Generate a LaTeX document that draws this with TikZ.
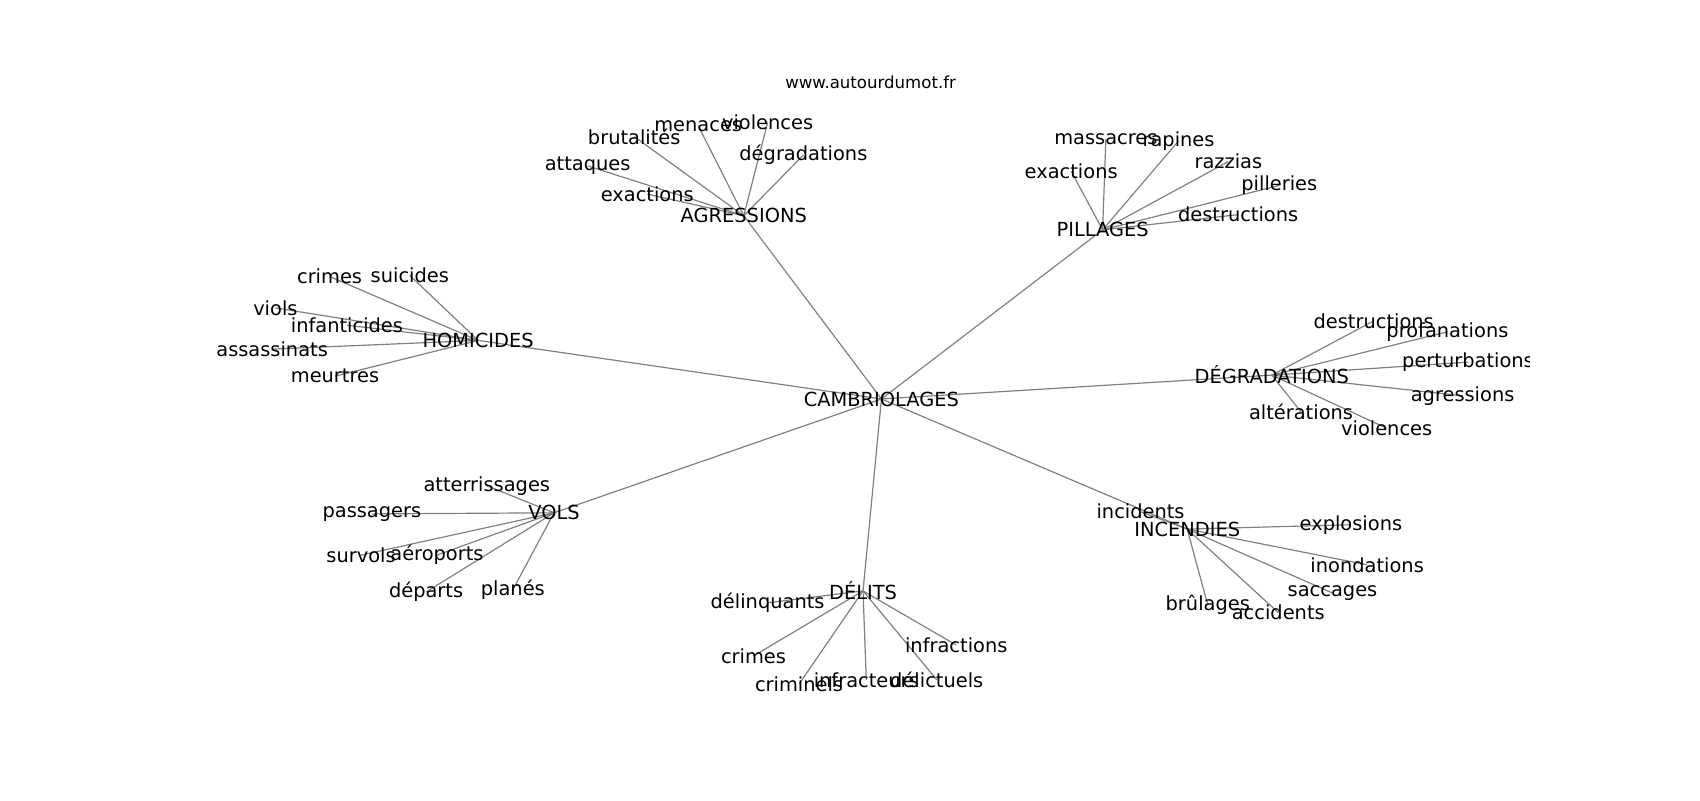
\documentclass[tikz,border=0pt]{standalone}
\usepackage{fontspec}
\setmainfont{DejaVu Sans}
\usetikzlibrary{backgrounds}

\tikzset{
  mot/.style={inner sep=0pt, font=\fontsize{17.9}{21}\selectfont},
  lien/.style={draw=gray, line width=1.1pt}
}

\begin{document}
\begin{tikzpicture}[x=1pt,y=-1pt]
\useasboundingbox (0,0) rectangle (1568,738);

\node[inner sep=0pt, font=\fontsize{15.3}{18}\selectfont] (site) at (803,76) {www.autourdumot.fr};

\begin{scope}
\clip (196,88) rectangle (1411,657);

% centre
\node[mot] (cambr) at (813,368) {CAMBRIOLAGES};

% agressions
\node[mot] (agr) at (686,199) {AGRESSIONS};
\node[mot] (agrViol) at (708,113) {violences};
\node[mot] (agrMen) at (644,116) {menaces};
\node[mot] (agrBrut) at (585,126) {brutalités};
\node[mot] (agrDeg) at (741,143) {dégradations};
\node[mot] (agrAtt) at (542,153) {attaques};
\node[mot] (agrExa) at (597,179) {exactions};

% pillages
\node[mot] (pil) at (1017,212) {PILLAGES};
\node[mot] (pilMas) at (1020,128) {massacres};
\node[mot] (pilRap) at (1087,130) {rapines};
\node[mot] (pilExa) at (988,158) {exactions};
\node[mot] (pilRaz) at (1133,149) {razzias};
\node[mot] (pilPil) at (1180,171) {pilleries};
\node[mot] (pilDes) at (1142,198) {destructions};

% homicides
\node[mot] (hom) at (441,314) {HOMICIDES};
\node[mot] (homCri) at (304,255) {crimes};
\node[mot] (homSui) at (378,254) {suicides};
\node[mot] (homVio) at (254,284) {viols};
\node[mot] (homInf) at (320,300) {infanticides};
\node[mot] (homAss) at (251,322) {assassinats};
\node[mot] (homMeu) at (309,347) {meurtres};

% degradations
\node[mot] (deg) at (1173,346) {DÉGRADATIONS};
\node[mot] (degDes) at (1267,296) {destructions};
\node[mot] (degPro) at (1335,306) {profanations};
\node[mot] (degPer) at (1354,334) {perturbations};
\node[mot] (degAgr) at (1349,365) {agressions};
\node[mot] (degAlt) at (1200,380) {altérations};
\node[mot] (degVio) at (1279,395) {violences};

% vols
\node[mot] (vol) at (511,473) {VOLS};
\node[mot] (volAtt) at (449,448) {atterrissages};
\node[mot] (volPas) at (343,474) {passagers};
\node[mot] (volSur) at (333,512) {survols};
\node[mot] (volAer) at (403,512) {aéroports};
\node[mot] (volDep) at (393,546) {départs};
\node[mot] (volPla) at (473,544) {planés};

% delits
\node[mot] (del) at (796,545) {DÉLITS};
\node[mot] (delDel) at (708,556) {délinquants};
\node[mot] (delCri) at (695,605) {crimes};
\node[mot] (delCrim) at (737,631) {criminels};
\node[mot] (delInf) at (799,627) {infracteurs};
\node[mot] (delDelic) at (864,627) {délictuels};
\node[mot] (delInfr) at (882,595) {infractions};

% incendies
\node[mot] (inc) at (1095,488) {INCENDIES};
\node[mot] (incInc) at (1052,472) {incidents};
\node[mot] (incExp) at (1246,484) {explosions};
\node[mot] (incIno) at (1261,521) {inondations};
\node[mot] (incSac) at (1229,547) {saccages};
\node[mot] (incBru) at (1114,558) {brûlages};
\node[mot] (incAcc) at (1179,565) {accidents};

\begin{scope}[on background layer]
\draw[lien] (cambr.center) -- (agr.center);
\draw[lien] (cambr.center) -- (pil.center);
\draw[lien] (cambr.center) -- (hom.center);
\draw[lien] (cambr.center) -- (deg.center);
\draw[lien] (cambr.center) -- (vol.center);
\draw[lien] (cambr.center) -- (del.center);
\draw[lien] (cambr.center) -- (inc.center);

\draw[lien] (agr.center) -- (agrViol.center);
\draw[lien] (agr.center) -- (agrMen.center);
\draw[lien] (agr.center) -- (agrBrut.center);
\draw[lien] (agr.center) -- (agrDeg.center);
\draw[lien] (agr.center) -- (agrAtt.center);
\draw[lien] (agr.center) -- (agrExa.center);

\draw[lien] (pil.center) -- (pilMas.center);
\draw[lien] (pil.center) -- (pilRap.center);
\draw[lien] (pil.center) -- (pilExa.center);
\draw[lien] (pil.center) -- (pilRaz.center);
\draw[lien] (pil.center) -- (pilPil.center);
\draw[lien] (pil.center) -- (pilDes.center);

\draw[lien] (hom.center) -- (homCri.center);
\draw[lien] (hom.center) -- (homSui.center);
\draw[lien] (hom.center) -- (homVio.center);
\draw[lien] (hom.center) -- (homInf.center);
\draw[lien] (hom.center) -- (homAss.center);
\draw[lien] (hom.center) -- (homMeu.center);

\draw[lien] (deg.center) -- (degDes.center);
\draw[lien] (deg.center) -- (degPro.center);
\draw[lien] (deg.center) -- (degPer.center);
\draw[lien] (deg.center) -- (degAgr.center);
\draw[lien] (deg.center) -- (degAlt.center);
\draw[lien] (deg.center) -- (degVio.center);

\draw[lien] (vol.center) -- (volAtt.center);
\draw[lien] (vol.center) -- (volPas.center);
\draw[lien] (vol.center) -- (volSur.center);
\draw[lien] (vol.center) -- (volAer.center);
\draw[lien] (vol.center) -- (volDep.center);
\draw[lien] (vol.center) -- (volPla.center);

\draw[lien] (del.center) -- (delDel.center);
\draw[lien] (del.center) -- (delCri.center);
\draw[lien] (del.center) -- (delCrim.center);
\draw[lien] (del.center) -- (delInf.center);
\draw[lien] (del.center) -- (delDelic.center);
\draw[lien] (del.center) -- (delInfr.center);

\draw[lien] (inc.center) -- (incInc.center);
\draw[lien] (inc.center) -- (incExp.center);
\draw[lien] (inc.center) -- (incIno.center);
\draw[lien] (inc.center) -- (incSac.center);
\draw[lien] (inc.center) -- (incBru.center);
\draw[lien] (inc.center) -- (incAcc.center);
\end{scope}
\end{scope}
\end{tikzpicture}
\end{document}
